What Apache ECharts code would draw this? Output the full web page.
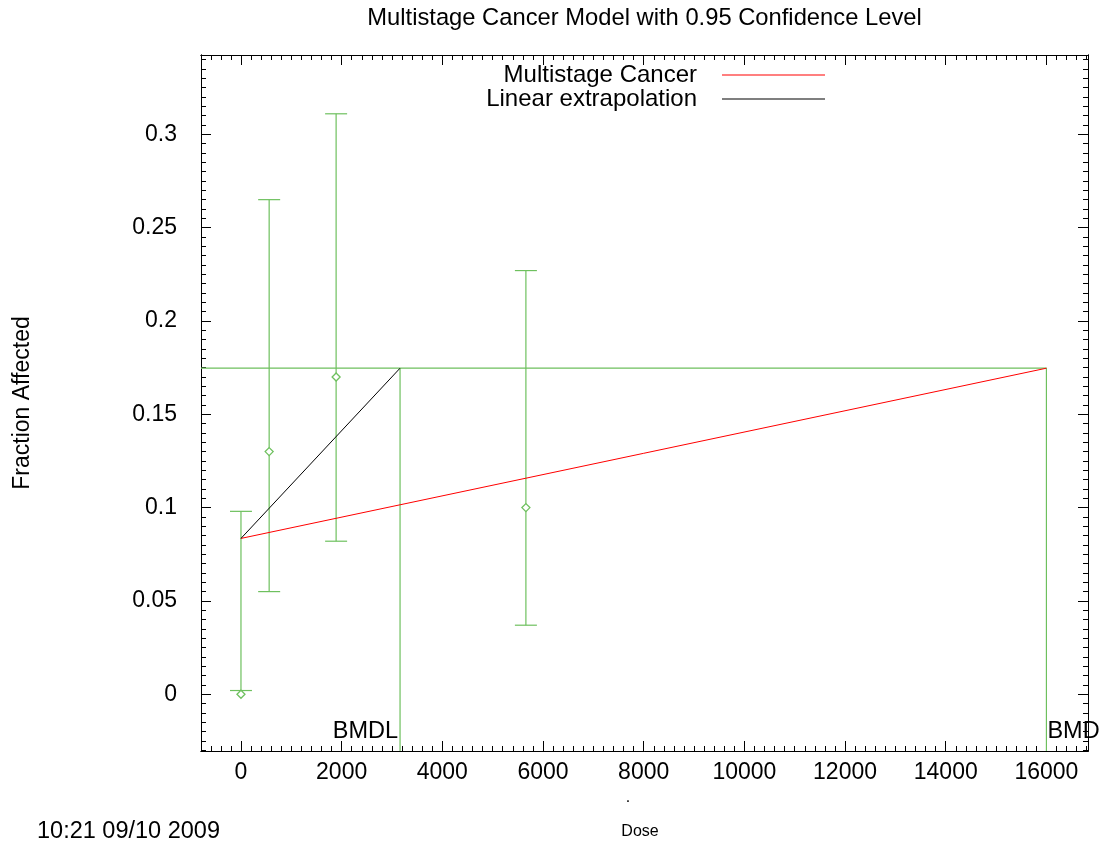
<!DOCTYPE html>
<html lang="en">
<head>
<meta charset="UTF-8">
<title>Multistage Cancer Model with 0.95 Confidence Level</title>
<script src="https://cdn.jsdelivr.net/npm/echarts@6/dist/echarts.min.js"></script>
<style>
  html, body { margin: 0; padding: 0; background: #fff; }
  #main { width: 1102px; height: 844px; }
</style>
</head>
<body>
<div id="main"></div>
<script>
var doses = [0, 560, 1890, 5660];
var fractions = [0, 0.13, 0.17, 0.1];
var lowerCI = [0.002, 0.055, 0.082, 0.037];
var upperCI = [0.098, 0.265, 0.311, 0.227];

// model lines
var interceptY = 0.0835;   // background response
var bmr = 0.1747;          // response level at BMD
var bmdl = 3160;
var bmd = 16000;

// axis ranges and ticks
var xMin = -794, xMax = 16826;
var yMin = -0.0304, yMax = 0.3425;
var xMajorTicks = [0, 2000, 4000, 6000, 8000, 10000, 12000, 14000, 16000];
var yMajorTicks = [0, 0.05, 0.1, 0.15, 0.2, 0.25, 0.3];

var xMinorTicks = [];
for (var i = -3; i <= 84; i++) xMinorTicks.push(i * 200);
var yMinorTicks = [];
for (var j = -6; j <= 68; j++) yMinorTicks.push(Math.round(j * 5) / 1000);

var green = '#6ec05e';
var font = "'Liberation Sans', Arial, sans-serif";

var chart = echarts.init(document.getElementById('main'), null, { renderer: 'canvas' });

function renderErrorBar(params, api) {
  var x = api.value(0);
  var lo = api.coord([x, api.value(1)]);
  var hi = api.coord([x, api.value(2)]);
  var cap = 11;
  var st = { stroke: green, lineWidth: 1.2 };
  return {
    type: 'group',
    children: [
      { type: 'line', shape: { x1: lo[0], y1: lo[1], x2: hi[0], y2: hi[1] }, style: st },
      { type: 'line', shape: { x1: lo[0] - cap, y1: lo[1], x2: lo[0] + cap, y2: lo[1] }, style: st },
      { type: 'line', shape: { x1: hi[0] - cap, y1: hi[1], x2: hi[0] + cap, y2: hi[1] }, style: st }
    ]
  };
}

function makeX(pos, ticks, len, labels) {
  return {
    type: 'value', position: pos, min: xMin, max: xMax,
    axisLine: { show: true, onZero: false, lineStyle: { color: '#000', width: 1 } },
    axisTick: { show: true, inside: true, length: len, customValues: ticks, lineStyle: { color: '#000' } },
    axisLabel: labels ? {
      show: true, customValues: xMajorTicks, margin: 10, fontSize: 23, color: '#000', fontFamily: font,
      formatter: function (v) { return String(v); }
    } : { show: false },
    splitLine: { show: false }
  };
}
function makeY(pos, ticks, len, labels) {
  var a = {
    type: 'value', position: pos, min: yMin, max: yMax,
    axisLine: { show: true, onZero: false, lineStyle: { color: '#000', width: 1 } },
    axisTick: { show: true, inside: true, length: len, customValues: ticks, lineStyle: { color: '#000' } },
    axisLabel: labels ? {
      show: true, customValues: yMajorTicks, margin: 24, fontSize: 23, color: '#000', fontFamily: font
    } : { show: false },
    splitLine: { show: false }
  };
  if (labels) {
    a.name = 'Fraction Affected';
    a.nameLocation = 'middle';
    a.nameRotate = 90;
    a.nameGap = 167;
    a.nameTextStyle = { fontSize: 23, color: '#000', fontFamily: font };
  }
  return a;
}

var errData = doses.map(function (d, k) { return [d, lowerCI[k], upperCI[k]]; });
var pointData = doses.map(function (d, k) { return [d, fractions[k]]; });

var option = {
  animation: false,
  backgroundColor: '#fff',
  grid: { left: 201, right: 14, top: 55, bottom: 93, containLabel: false },
  legend: {
    data: ['Multistage Cancer', 'Linear extrapolation'],
    orient: 'vertical', align: 'right',
    right: 272, top: 58,
    icon: 'rect',
    itemWidth: 103, itemHeight: 1.2, itemGap: 0,
    textStyle: { fontSize: 24, color: '#000', fontFamily: font, padding: [0, 20, 0, 0], lineHeight: 24 }
  },
  xAxis: [
    makeX('bottom', xMinorTicks, 5, true),
    makeX('bottom', xMajorTicks, 10, false),
    makeX('top', xMinorTicks, 5, false),
    makeX('top', xMajorTicks, 10, false)
  ],
  yAxis: [
    makeY('left', yMinorTicks, 5, true),
    makeY('left', yMajorTicks, 10, false),
    makeY('right', yMinorTicks, 5, false),
    makeY('right', yMajorTicks, 10, false)
  ],
  graphic: [
    { type: 'text', x: 644.5, y: 18, style: { text: 'Multistage Cancer Model with 0.95 Confidence Level', fontSize: 23.75, fill: '#000', fontFamily: font, align: 'center', verticalAlign: 'middle' } },
    { type: 'text', x: 37, y: 832, style: { text: '10:21 09/10 2009', fontSize: 23.5, fill: '#000', fontFamily: font, align: 'left', verticalAlign: 'middle' } },
    { type: 'text', x: 628, y: 798, style: { text: '.', fontSize: 16, fill: '#000', fontFamily: font, align: 'center', verticalAlign: 'middle' } },
    { type: 'text', x: 640, y: 832, style: { text: 'Dose', fontSize: 16, fill: '#000', fontFamily: font, align: 'center', verticalAlign: 'middle' } }
  ],
  series: [
    {
      name: 'bmr lines', type: 'line', silent: true, symbol: 'none',
      lineStyle: { color: green, width: 1.2 },
      data: [[xMin, bmr], [bmd, bmr], [bmd, yMin]]
    },
    {
      name: 'bmdl line', type: 'line', silent: true, symbol: 'none',
      lineStyle: { color: green, width: 1.2 },
      data: [[bmdl, bmr], [bmdl, yMin]]
    },
    {
      name: 'error bars', type: 'custom', silent: true,
      renderItem: renderErrorBar,
      encode: { x: 0, y: [1, 2] },
      data: errData
    },
    {
      name: 'observed', type: 'scatter', silent: true,
      symbol: 'diamond', symbolSize: 8,
      itemStyle: { color: '#fff', borderColor: green, borderWidth: 1.3, opacity: 1 },
      data: pointData
    },
    {
      name: 'Multistage Cancer', type: 'line', symbol: 'none', silent: true,
      lineStyle: { color: '#ff0000', width: 1 }, itemStyle: { color: '#ff0000' },
      data: [[0, interceptY], [bmd, bmr]]
    },
    {
      name: 'Linear extrapolation', type: 'line', symbol: 'none', silent: true,
      lineStyle: { color: '#000', width: 1 }, itemStyle: { color: '#000' },
      data: [[0, interceptY], [bmdl, bmr]]
    },
    {
      name: 'bmd labels', type: 'scatter', silent: true, symbolSize: 0,
      itemStyle: { color: 'transparent', opacity: 1 },
      label: { show: true, position: 'top', distance: 7, fontSize: 23.5, color: '#000', fontFamily: font },
      data: [
        { value: [bmdl, yMin], label: { formatter: 'BMDL', align: 'right', offset: [-2, 0], color: '#000' } },
        { value: [bmd, yMin], label: { formatter: 'BMD', align: 'left', offset: [1, 0], color: '#000' } }
      ]
    }
  ]
};

chart.setOption(option);
</script>
</body>
</html>
